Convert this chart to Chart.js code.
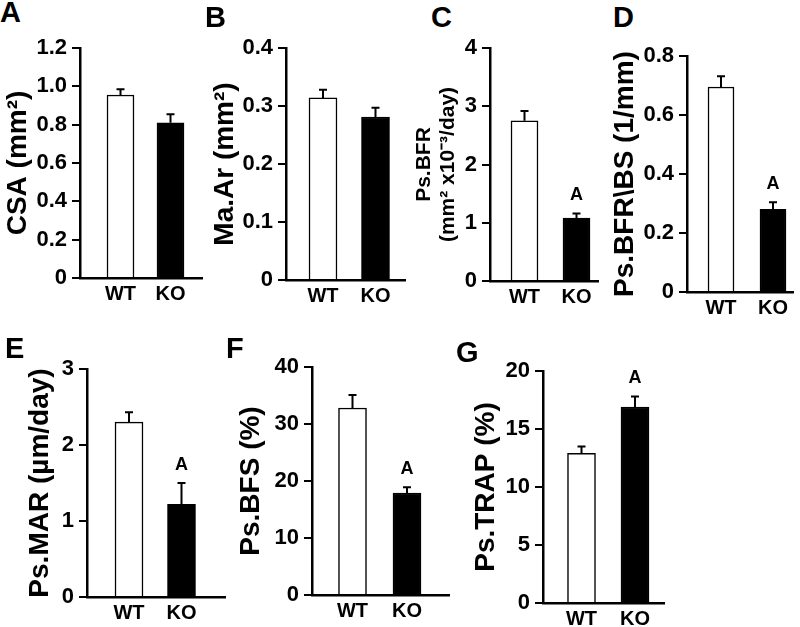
<!DOCTYPE html>
<html>
<head>
<meta charset="utf-8">
<script src="https://cdn.jsdelivr.net/npm/chart.js@4.4.1/dist/chart.umd.min.js"></script>
<style>
  html, body { margin: 0; padding: 0; background: #fff; }
  #wrap { position: relative; width: 800px; height: 627px; overflow: hidden; }
  #wrap canvas { position: absolute; }
  .letter { position: absolute; font: bold 29px "Liberation Sans", Arial, sans-serif; line-height: 1; color: #000; }
</style>
</head>
<body>
<div id="wrap"></div>
<script>
// ---- data ----
const groups = ['WT', 'KO'];

const csaMean = [0.955, 0.81];
const csaSem = [0.03, 0.045];
const csaSig = ['', ''];
const csaTicks = ['0', '0.2', '0.4', '0.6', '0.8', '1.0', '1.2'];

const maArMean = [0.314, 0.281];
const maArSem = [0.014, 0.016];
const maArSig = ['', ''];
const maArTicks = ['0', '0.1', '0.2', '0.3', '0.4'];

const bfrMean = [2.75, 1.08];
const bfrSem = [0.17, 0.08];
const bfrSig = ['', 'A'];
const bfrTicks = ['0', '1', '2', '3', '4'];

const bfrBsMean = [0.695, 0.28];
const bfrBsSem = [0.036, 0.024];
const bfrBsSig = ['', 'A'];
const bfrBsTicks = ['0', '0.2', '0.4', '0.6', '0.8'];

const marMean = [2.30, 1.22];
const marSem = [0.13, 0.28];
const marSig = ['', 'A'];
const marTicks = ['0', '1', '2', '3'];

const bfsMean = [32.8, 17.9];
const bfsSem = [2.3, 1.0];
const bfsSig = ['', 'A'];
const bfsTicks = ['0', '10', '20', '30', '40'];

const trapMean = [12.9, 16.9];
const trapSem = [0.6, 0.9];
const trapSig = ['', 'A'];
const trapTicks = ['0', '5', '10', '15', '20'];

// ---- panel layout (pixels in the 800x627 page) ----
const panels = [
  { letter: 'A', lx: 0, ly: -2, title: 'CSA (mm²)', tSize: 28, mean: csaMean, sem: csaSem, sig: csaSig, ticks: csaTicks,
    row: 0, axisX: 80, endX: 202, topY: 48, zeroY: 278, wt: 120.5, ko: 170.5, bar: 27, titleX: 18 },
  { letter: 'B', lx: 205, ly: 3, title: 'Ma.Ar (mm²)', tSize: 28, mean: maArMean, sem: maArSem, sig: maArSig, ticks: maArTicks,
    row: 0, axisX: 286, endX: 405, topY: 48, zeroY: 280, wt: 323, ko: 375.5, bar: 28, titleX: 225 },
  { letter: 'C', lx: 431, ly: 3, title: ['Ps.BFR', '(mm² x10⁻³/day)'], tSize: 21, mean: bfrMean, sem: bfrSem, sig: bfrSig, ticks: bfrTicks,
    row: 0, axisX: 490, endX: 598, topY: 48, zeroY: 281, wt: 524.5, ko: 576.5, bar: 27, titleX: 424 },
  { letter: 'D', lx: 613, ly: 3, title: 'Ps.BFR\\BS (1/mm)', tSize: 28, mean: bfrBsMean, sem: bfrBsSem, sig: bfrBsSig, ticks: bfrBsTicks,
    row: 0, axisX: 687, endX: 793, topY: 56, zeroY: 292, wt: 721, ko: 773, bar: 26, titleX: 625 },
  { letter: 'E', lx: 5, ly: 334, title: 'Ps.MAR (µm/day)', tSize: 28, mean: marMean, sem: marSem, sig: marSig, ticks: marTicks,
    row: 1, axisX: 87, endX: 225, topY: 369, zeroY: 597, wt: 129, ko: 181.5, bar: 28, titleX: 40 },
  { letter: 'F', lx: 226, ly: 334, title: 'Ps.BFS (%)', tSize: 28, mean: bfsMean, sem: bfsSem, sig: bfsSig, ticks: bfsTicks,
    row: 1, axisX: 312, endX: 449, topY: 367, zeroY: 595, wt: 352.5, ko: 407, bar: 28, titleX: 251 },
  { letter: 'G', lx: 456, ly: 338, title: 'Ps.TRAP (%)', tSize: 28, mean: trapMean, sem: trapSem, sig: trapSig, ticks: trapTicks,
    row: 1, axisX: 543, endX: 664, topY: 371, zeroY: 603, wt: 581.5, ko: 635, bar: 28, titleX: 486 }
];
const rows = [{ top: 0, height: 362 }, { top: 318, height: 309 }];

const FONT = '"Liberation Sans", Arial, sans-serif';

// error bars (upper only) + significance letters
const errorBars = {
  id: 'errorBars',
  afterDatasetsDraw(chart, args, opts) {
    const { ctx } = chart;
    const y = chart.scales.y;
    const meta = chart.getDatasetMeta(0);
    ctx.save();
    ctx.strokeStyle = '#000';
    ctx.fillStyle = '#000';
    ctx.lineWidth = 2;
    ctx.font = 'bold 18px ' + FONT;
    ctx.textAlign = 'center';
    ctx.textBaseline = 'middle';
    meta.data.forEach((bar, i) => {
      const top = y.getPixelForValue(opts.mean[i] + opts.sem[i]);
      ctx.beginPath();
      ctx.moveTo(bar.x, bar.y);
      ctx.lineTo(bar.x, top);
      ctx.moveTo(bar.x - 4, top);
      ctx.lineTo(bar.x + 4, top);
      ctx.stroke();
      if (opts.sig[i]) ctx.fillText(opts.sig[i], bar.x, top - 18);
    });
    ctx.restore();
  }
};

const $wrap = document.getElementById('wrap');

panels.forEach(p => {
  const letter = document.createElement('div');
  letter.className = 'letter';
  letter.textContent = p.letter;
  letter.style.left = p.lx + 'px';
  letter.style.top = p.ly + 'px';
  $wrap.appendChild(letter);

  const row = rows[p.row];
  const left = p.titleX - 18;
  const width = p.endX - left + 4;
  const canvas = document.createElement('canvas');
  canvas.width = width;
  canvas.height = row.height;
  canvas.style.left = left + 'px';
  canvas.style.top = row.top + 'px';
  canvas.style.width = width + 'px';
  canvas.style.height = row.height + 'px';
  $wrap.appendChild(canvas);

  const lineH = 1.15;
  const titlePad = 18 - p.tSize * lineH / 2;
  const spacing = p.ko - p.wt;
  const xMin = 1 - (p.wt - p.axisX) / spacing;
  const xMax = 2 + (p.endX - p.ko) / spacing;

  new Chart(canvas.getContext('2d'), {
    type: 'bar',
    data: {
      datasets: [{
        data: groups.map((g, i) => ({ x: i + 1, y: p.mean[i] })),
        backgroundColor: ['#ffffff', '#000000'],
        borderColor: '#000000',
        borderWidth: 1.5,
        barThickness: p.bar
      }]
    },
    options: {
      responsive: false,
      animation: false,
      events: [],
      layout: { padding: { top: p.topY - row.top, right: 4, left: 0, bottom: 0 } },
      plugins: {
        legend: { display: false },
        tooltip: { enabled: false },
        errorBars: { mean: p.mean, sem: p.sem, sig: p.sig }
      },
      scales: {
        x: {
          type: 'linear',
          min: xMin,
          max: xMax,
          offset: false,
          grid: { display: false, drawTicks: false, tickLength: 0, offset: false },
          border: { display: true, color: '#000', width: 2.5 },
          afterBuildTicks: s => { s.ticks = groups.map((g, i) => ({ value: i + 1 })); },
          afterFit: s => { s.height = row.top + row.height - p.zeroY; },
          ticks: {
            color: '#000',
            padding: 4,
            maxRotation: 0,
            font: { family: FONT, size: 20, weight: 'bold' },
            callback: (v, i) => groups[i]
          }
        },
        y: {
          min: 0,
          max: parseFloat(p.ticks[p.ticks.length - 1]),
          grid: { display: true, drawOnChartArea: false, drawTicks: true, tickLength: 8, color: '#000', lineWidth: 2 },
          border: { display: true, color: '#000', width: 2.5 },
          afterBuildTicks: s => { s.ticks = p.ticks.map(t => ({ value: parseFloat(t) })); },
          afterFit: s => { s.width = p.axisX - left; },
          ticks: {
            color: '#000',
            padding: 5,
            font: { family: FONT, size: 22, weight: 'bold' },
            callback: (v, i) => p.ticks[i]
          },
          title: {
            display: true,
            text: p.title,
            color: '#000',
            padding: { top: titlePad, bottom: 0 },
            font: { family: FONT, size: p.tSize, weight: 'bold', lineHeight: lineH }
          }
        }
      }
    },
    plugins: [errorBars]
  });
});
</script>
</body>
</html>
